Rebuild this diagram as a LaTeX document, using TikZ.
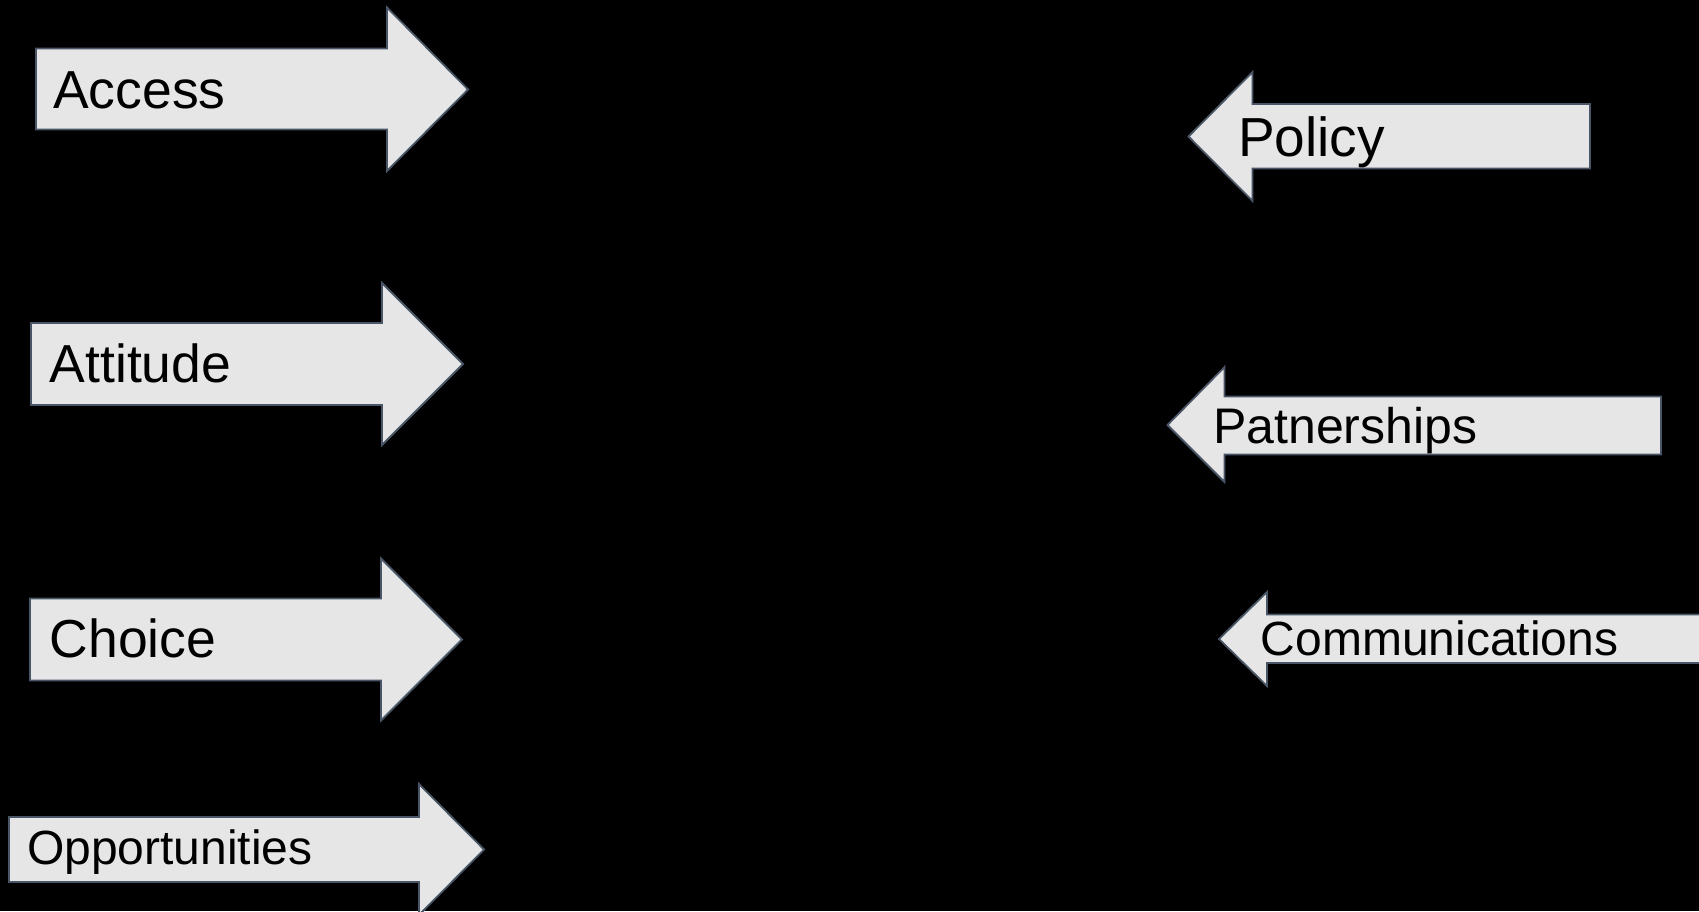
\documentclass[tikz,border=0pt]{standalone}
\usepackage{fontspec}
\setmainfont{Liberation Sans}
\definecolor{arrfill}{HTML}{E6E6E6}
\definecolor{arredge}{HTML}{4A5568}
\tikzset{
  blockarrow/.style={fill=arrfill, draw=arredge, line width=1.8pt, line join=miter},
  bigtext/.style={anchor=base west, inner sep=0pt, text=black, font=\fontsize{53.5}{60}\selectfont},
  smalltext/.style={anchor=base west, inner sep=0pt, text=black, font=\fontsize{48}{55}\selectfont}
}
\begin{document}
\begin{tikzpicture}[x=1pt,y=-1pt]
\useasboundingbox (0,0) rectangle (1699,911);
\clip (0,0) rectangle (1699,911);
\fill[black] (0,0) rectangle (1699,911);
% right-pointing arrows
\draw[blockarrow] (36,48.5) -- (387,48.5) -- (387,7.5) -- (468,89.5) -- (387,171) -- (387,129.5) -- (36,129.5) -- cycle;
\draw[blockarrow] (31,323) -- (382,323) -- (382,283) -- (463,364) -- (382,445) -- (382,405) -- (31,405) -- cycle;
\draw[blockarrow] (30,598.5) -- (381,598.5) -- (381,558.5) -- (462,639.5) -- (381,720.5) -- (381,680.5) -- (30,680.5) -- cycle;
\draw[blockarrow] (9,817) -- (419,817) -- (419,784) -- (484,849.5) -- (419,915) -- (419,882) -- (9,882) -- cycle;
% left-pointing arrows
\draw[blockarrow] (1590,104) -- (1252.5,104) -- (1252.5,72) -- (1188.5,136.5) -- (1252.5,201) -- (1252.5,168.5) -- (1590,168.5) -- cycle;
\draw[blockarrow] (1661,396.5) -- (1224.5,396.5) -- (1224.5,367) -- (1167.5,425) -- (1224.5,482) -- (1224.5,454.5) -- (1661,454.5) -- cycle;
\draw[blockarrow] (1720,614.5) -- (1267,614.5) -- (1267,592) -- (1219,639) -- (1267,686) -- (1267,663) -- (1720,663) -- cycle;
% labels
\node[bigtext] (access) at (53,108) {Access};
\node[bigtext] (attitude) at (49.5,382) {Attitude};
\node[bigtext] (choice) at (49.5,657.5) {Choice};
\node[smalltext] (opportunities) at (27,864) {Opportunities};
\node[bigtext, font=\fontsize{55}{60}\selectfont] (policy) at (1238,156.5) {Policy};
\node[smalltext, font=\fontsize{50}{56}\selectfont] (patnerships) at (1213,443.5) {Patnerships};
\node[smalltext] (communications) at (1260.5,655.5) {Communications};
\end{tikzpicture}
\end{document}
